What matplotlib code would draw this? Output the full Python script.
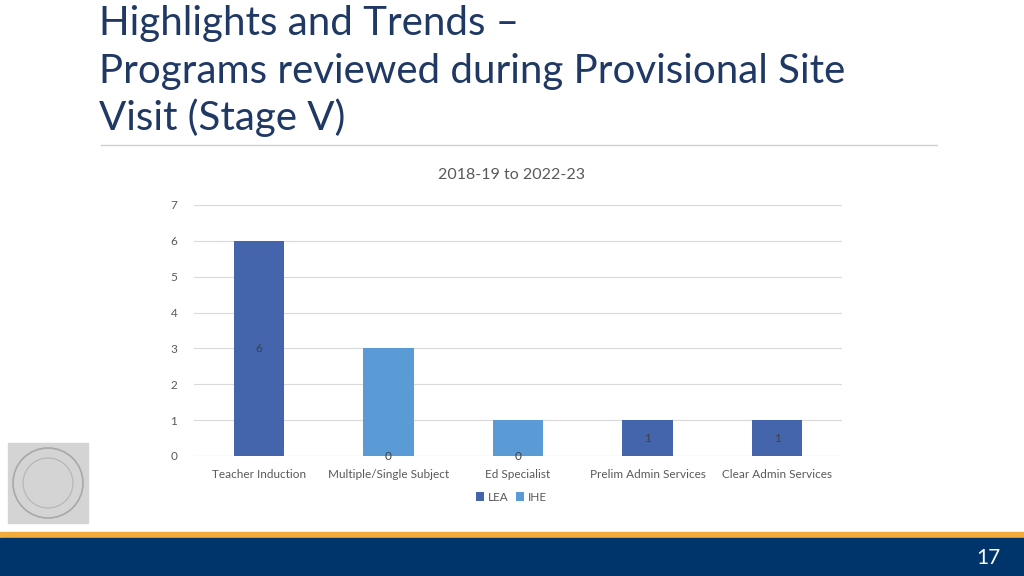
"""Stacked bar slide: programs reviewed during Provisional Site Visit (Stage V)."""

import matplotlib

matplotlib.use("Agg")
import matplotlib.pyplot as plt  # noqa: E402
from matplotlib.patches import Rectangle, Ellipse  # noqa: E402

categories = ["Teacher Induction", "Multiple/Single Subject", "Ed Specialist",
              "Prelim Admin Services", "Clear Admin Services"]
lea = [6, 0, 0, 1, 1]
ihe = [0, 3, 1, 0, 0]
yticks = [0, 1, 2, 3, 4, 5, 6, 7]

LEA_C = "#4464AC"
IHE_C = "#5B9BD5"
NAVY = "#203864"
TXT = "#595959"

plt.rcParams["font.family"] = ["Lato", "DejaVu Sans"]

fig = plt.figure(figsize=(10.24, 5.76), dpi=100)

# slide title
title_lines = ["Highlights and Trends \u2013",
               "Programs reviewed during Provisional Site",
               "Visit (Stage V)"]
for i, line in enumerate(title_lines):
    fig.text(99 / 1024, 1 - (24 + i * 47) / 576, line, fontsize=29,
             color=NAVY, fontweight="normal", va="center", ha="left")
fig.add_artist(plt.Line2D([101 / 1024, 937 / 1024], [1 - 145 / 576] * 2,
                          color="#D0D0D0", lw=1))

# chart
ax = fig.add_axes([194 / 1024, 1 - 456 / 576, 648 / 1024, 251 / 576])
x = range(len(categories))
w = 0.39
ax.bar(x, lea, w, color=LEA_C, label="LEA", zorder=3)
ax.bar(x, ihe, w, bottom=lea, color=IHE_C, label="IHE", zorder=3)
for xi, v in zip(x, lea):
    ax.text(xi, v / 2, str(v), ha="center", va="center", fontsize=8.5,
            color="#404040", zorder=4)

ax.set_xlim(-0.5, len(categories) - 0.5)
ax.set_ylim(0, 7)
ax.set_yticks(yticks)
ax.set_xticks(list(x))
ax.set_xticklabels(categories)
ax.grid(axis="y", color="#D9D9D9", lw=0.8, zorder=0)
ax.tick_params(length=0, labelsize=8.5, colors=TXT, pad=9)
ax.tick_params(axis="y", pad=12)
for s in ax.spines.values():
    s.set_visible(False)
ax.axhline(0, color="#D9D9D9", lw=0.8, zorder=2)
ax.set_title("2018-19 to 2022-23", fontsize=11.5, color=TXT, pad=19, x=0.49)
ax.legend(loc="upper center", bbox_to_anchor=(0.49, -0.1), ncol=2,
          frameon=False, fontsize=8.5, handlelength=0.7, handleheight=0.7,
          handletextpad=0.3, columnspacing=0.6, labelcolor=TXT)

# seal placeholder
fig.add_artist(Rectangle((8 / 1024, 1 - 523 / 576), 80 / 1024, 80 / 576,
                         transform=fig.transFigure, color="#D4D4D4"))
fig.add_artist(Ellipse((48 / 1024, 1 - 483 / 576), 70 / 1024, 70 / 576,
                       transform=fig.transFigure, fill=False,
                       ec="#A8A8A8", lw=1.2))
fig.add_artist(Ellipse((48 / 1024, 1 - 483 / 576), 50 / 1024, 50 / 576,
                       transform=fig.transFigure, fill=False,
                       ec="#B4B4B4", lw=0.8))

# footer bands
fig.add_artist(Rectangle((0, 1 - 538 / 576), 1, 6 / 576,
                         transform=fig.transFigure, color="#F2AC3C"))
fig.add_artist(Rectangle((0, 0), 1, 38 / 576,
                         transform=fig.transFigure, color="#00356B"))
fig.text(988 / 1024, 1 - 558 / 576, "17", color="white", fontsize=15,
         ha="center", va="center")

fig.savefig("out.png", dpi=100)
